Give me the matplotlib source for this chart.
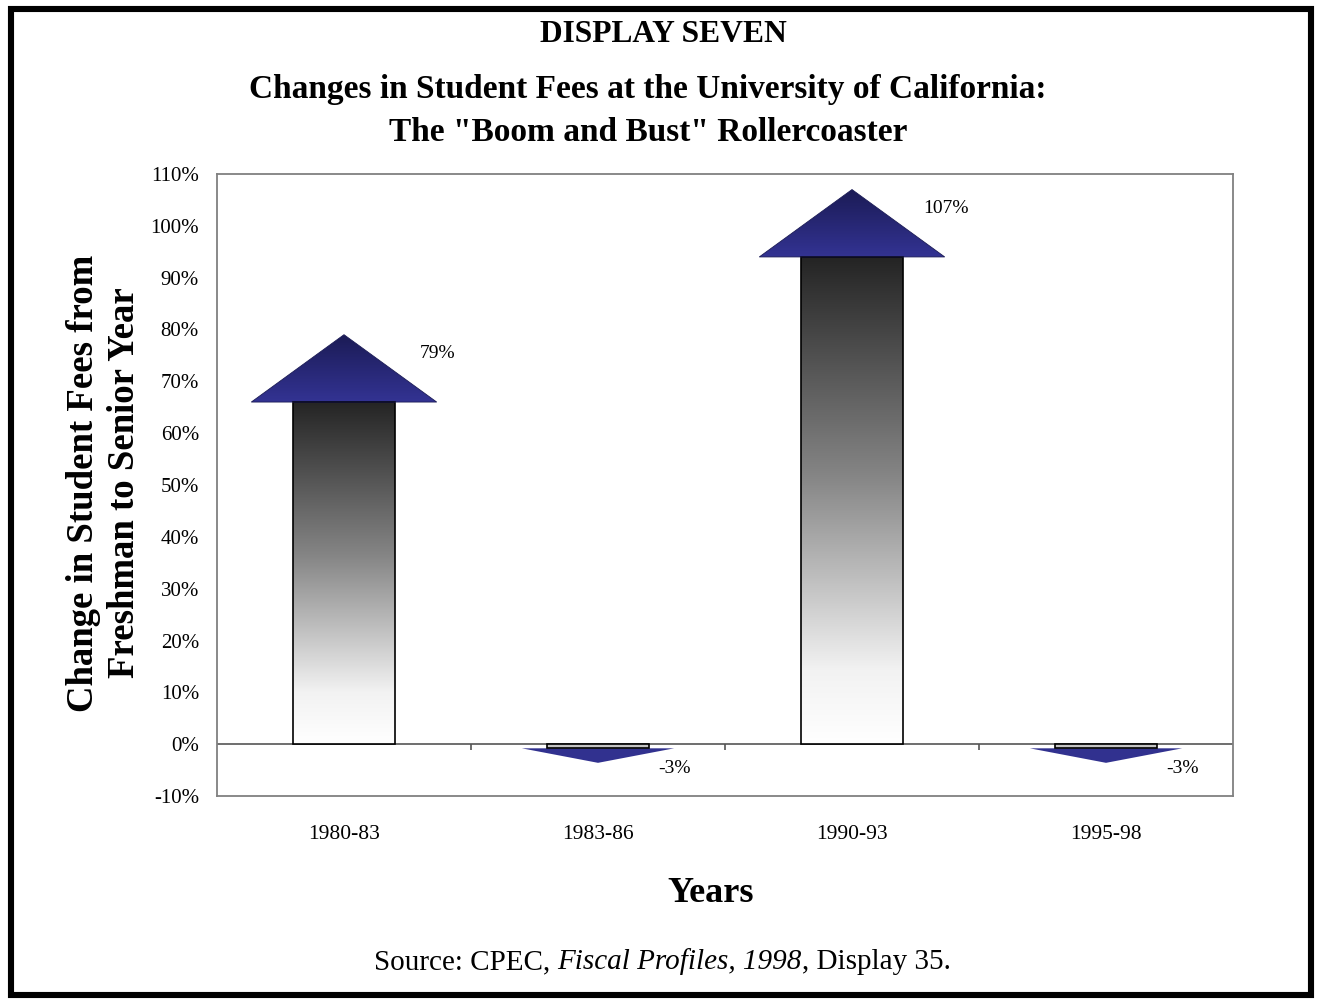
import matplotlib
matplotlib.use("Agg")
import matplotlib.pyplot as plt
import numpy as np
from matplotlib.patches import Rectangle, Polygon
import matplotlib.colors as mcolors

plt.rcParams['font.family'] = ['Liberation Serif', 'DejaVu Serif']

categories = ["1980-83", "1983-86", "1990-93", "1995-98"]
values = [79, -3, 107, -3]
value_labels = ["79%", "-3%", "107%", "-3%"]
yticks = list(range(-10, 111, 10))
ytick_labels = [f"{t}%" for t in yticks]

title_top = "DISPLAY SEVEN"
title_main = "Changes in Student Fees at the University of California:\nThe \"Boom and Bust\" Rollercoaster"
ylabel = "Change in Student Fees from\nFreshman to Senior Year"
xlabel = "Years"
source_parts = [("Source: CPEC, ", "normal"), ("Fiscal Profiles, 1998", "italic"), (", Display 35.", "normal")]

fig = plt.figure(figsize=(13.2, 10), dpi=100)
ax = fig.add_axes([217/1320, 1-796/1000, (1233-217)/1320, (796-174)/1000])
ax.set_xlim(-0.5, len(categories) - 0.5)
ax.set_ylim(-10, 110)

body_w = 0.4
head_w_pos = 0.73
head_h_pos = 13
neg_body = 0.8
head_w_neg = 0.6

body_cmap = mcolors.LinearSegmentedColormap.from_list(
    "body", [(0.0, "#ffffff"), (0.15, "#f2f2f2"), (0.55, "#858585"), (1.0, "#242424")])
head_cmap = mcolors.LinearSegmentedColormap.from_list(
    "head", [(0.0, "#333393"), (1.0, "#1b1b55")])

grad = np.linspace(0, 1, 256).reshape(-1, 1)

for i, v in enumerate(values):
    if v >= 0:
        top = v - head_h_pos
        rect = Rectangle((i - body_w/2, 0), body_w, top, facecolor='none',
                         edgecolor='black', lw=1.2, zorder=4)
        ax.add_patch(rect)
        im = ax.imshow(grad, cmap=body_cmap, origin='lower', aspect='auto',
                       extent=(i - body_w/2, i + body_w/2, 0, top), zorder=3)
        im.set_clip_path(rect)
        tri = Polygon([(i - head_w_pos/2, top), (i + head_w_pos/2, top), (i, v)],
                      closed=True, facecolor='none', edgecolor='#1b1b55', lw=0.6, zorder=4)
        ax.add_patch(tri)
        im2 = ax.imshow(grad, cmap=head_cmap, origin='lower', aspect='auto',
                        extent=(i - head_w_pos/2, i + head_w_pos/2, top, v), zorder=3)
        im2.set_clip_path(tri)
        ax.text(i + 0.37, v - 3.7, value_labels[i], ha='center', va='center', fontsize=14)
    else:
        tri = Polygon([(i - head_w_neg/2, -neg_body), (i + head_w_neg/2, -neg_body), (i, v - 0.6)],
                      closed=True, facecolor='#31318f', edgecolor='none', zorder=3)
        ax.add_patch(tri)
        rect = Rectangle((i - body_w/2, -neg_body), body_w, neg_body, facecolor='#c4c4c4',
                         edgecolor='black', lw=1.2, zorder=4)
        ax.add_patch(rect)
        ax.text(i + 0.3, v - 1.7, value_labels[i], ha='center', va='center', fontsize=14)

ax.axhline(0, color='#555555', lw=1.2, zorder=2)
ax.vlines([k + 0.5 for k in range(len(categories) - 1)], -1.2, 0, color='#555555', lw=1.2, zorder=2)

ax.set_yticks(yticks)
ax.set_yticklabels(ytick_labels, fontsize=15)
ax.set_xticks(range(len(categories)))
ax.set_xticklabels(categories, fontsize=15.5)
ax.tick_params(axis='y', length=0, pad=13)
ax.tick_params(axis='x', length=0, pad=21)
for s in ax.spines.values():
    s.set_color('#808080')
    s.set_linewidth(1.3)

fig.text(663/1320, 1-34/1000, title_top, ha='center', va='center', fontsize=22.7, fontweight='bold')
fig.text(648/1320, 1-111/1000, title_main, ha='center', va='center', fontsize=24,
         fontweight='bold', linespacing=1.52)
fig.text(104/1320, 1-483/1000, ylabel, ha='center', va='center', rotation=90,
         fontsize=26.5, fontweight='bold', linespacing=1.2)
fig.text(711/1320, 1-893/1000, xlabel, ha='center', va='center', fontsize=26, fontweight='bold')

# Source line built from separate text pieces (roman / italic / roman)
renderer = fig.canvas.get_renderer()
pieces = []
for txt, style in source_parts:
    t = fig.text(0, 1-962/1000, txt, ha='left', va='center', fontsize=21, style=style)
    pieces.append(t)
widths = [p.get_window_extent(renderer).width for p in pieces]
total = sum(widths)
x0 = 662 - total/2
for p, w in zip(pieces, widths):
    p.set_x(x0/1320)
    x0 += w

frame = Rectangle((11/1320, 1-995/1000), (1311-11)/1320, (995-9)/1000,
                  transform=fig.transFigure, fill=False, edgecolor='black', lw=4.4)
fig.patches.append(frame)

fig.savefig("out.png", dpi=100)
